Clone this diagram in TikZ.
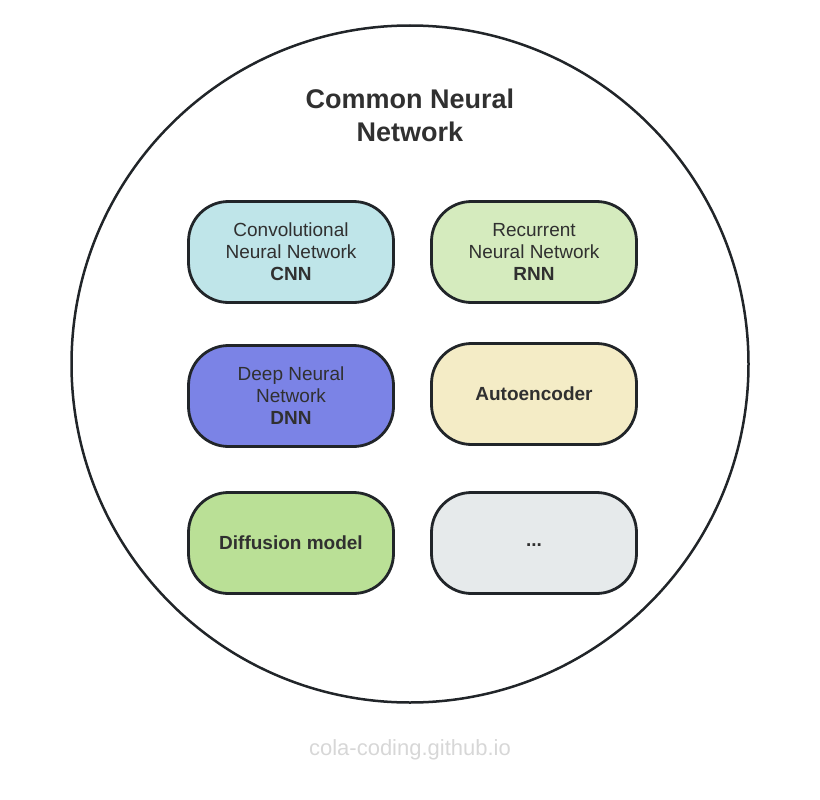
\documentclass[tikz,border=0pt]{standalone}
\usepackage{fontspec}
\setmainfont{Liberation Sans}
\usetikzlibrary{positioning}
\definecolor{rand}{RGB}{33,37,41}
\definecolor{schrift}{RGB}{48,48,48}
\definecolor{cnnblau}{RGB}{191,229,233}
\definecolor{rnngruen}{RGB}{213,235,190}
\definecolor{dnnlila}{RGB}{123,131,230}
\definecolor{autogelb}{RGB}{244,236,198}
\definecolor{diffgruen}{RGB}{186,224,150}
\definecolor{restgrau}{RGB}{230,234,235}
\definecolor{wasser}{RGB}{215,215,215}

\begin{document}
\begin{tikzpicture}[x=1pt, y=-1pt,
    netz/.style={draw=rand, line width=2.8pt, rounded corners=40pt, minimum width=205pt, minimum height=101pt, inner sep=0pt, text=schrift, align=center, font=\fontsize{19}{22}\selectfont}]

    \useasboundingbox (0,0) rectangle (820,800);

    % Kreis
    \node[draw=rand, line width=2.5pt, circle, minimum size=677pt, inner sep=0pt] (huelle) at (410,364) {};
    \node[text=schrift, align=center, font=\fontsize{27}{33}\selectfont\bfseries] (titel) at (410,115) {Common Neural\\Network};

    % Netze
    \node[netz, fill=cnnblau] (cnn) at (291,252) {Convolutional\\Neural Network\\\textbf{CNN}};
    \node[netz, fill=rnngruen] (rnn) at (534,252) {Recurrent\\Neural Network\\\textbf{RNN}};
    \node[netz, fill=dnnlila] (dnn) at (291,396) {Deep Neural\\Network\\\textbf{DNN}};
    \node[netz, fill=autogelb] (auto) at (534,394) {\textbf{Autoencoder}};
    \node[netz, fill=diffgruen] (diff) at (291,543) {\textbf{Diffusion model}};
    \node[netz, fill=restgrau] (rest) at (534,543) {\raisebox{-7pt}{\textbf{...}}};

    \node[text=wasser, font=\fontsize{22}{26}\selectfont] (quelle) at (410,750) {cola-coding.github.io};

\end{tikzpicture}
\end{document}
